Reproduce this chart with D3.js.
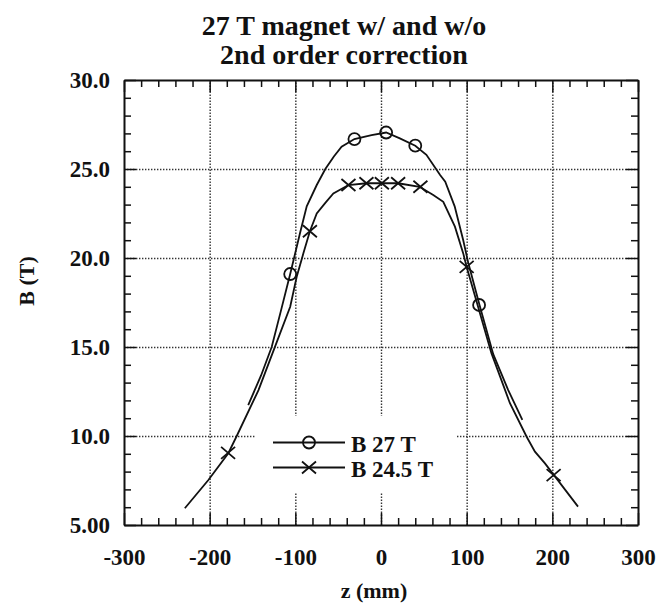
<!DOCTYPE html>
<html>
<head>
<meta charset="utf-8">
<script src="https://cdn.jsdelivr.net/npm/d3@7"></script>
<style>
  body { margin: 0; background: #fff; }
  text { font-family: "Liberation Serif", "Times New Roman", serif; font-weight: bold; fill: #111; }
</style>
</head>
<body>
<div class="canvas"></div>
<script>
// data
const zTicks = [-300, -200, -100, 0, 100, 200, 300];
const zTickLabels = ["-300", "-200", "-100", "0", "100", "200", "300"];
const bTicks = [5, 10, 15, 20, 25, 30];
const bTickLabels = ["5.00", "10.0", "15.0", "20.0", "25.0", "30.0"];

// B 27 T curve
const z27 = [-155, -140, -127.6, -117, -106, -94.5, -86.7, -75, -65, -55, -46, -31, -11, 6, 22, 40, 53, 69, 75, 86, 96, 102, 115, 131, 148.5, 165];
const b27 = [11.74, 13.4, 15.0, 17.0, 19.1, 21.4, 22.9, 24.1, 25.0, 25.7, 26.25, 26.68, 26.9, 27.05, 26.72, 26.31, 25.8, 24.66, 24.29, 22.9, 21.0, 19.7, 17.36, 14.6, 12.58, 10.9];
const z27Marks = [-106, -31, 6, 40, 114.5];
const b27Marks = [19.1, 26.68, 27.05, 26.31, 17.36];

// B 24.5 T curve
const z245 = [-229, -201.5, -178.2, -168.4, -143, -123.7, -106, -98.4, -90.6, -83, -75, -65, -55.6, -38, -17, 1, 20, 45, 61, 72.7, 86.3, 96, 100, 115.5, 129, 150.5, 170, 179.7, 191.4, 201.9, 230];
const b245 = [5.94, 7.53, 9.03, 10.0, 12.58, 15.02, 17.26, 18.95, 20.26, 21.5, 22.5, 23.1, 23.63, 24.1, 24.2, 24.2, 24.2, 24.0, 23.54, 23.16, 21.76, 20.26, 19.5, 16.9, 14.64, 11.84, 9.96, 9.12, 8.46, 7.8, 6.03];
const z245Marks = [-178.5, -83, -38, -17, 1, 20, 46, 100, 201.5];
const b245Marks = [9.05, 21.5, 24.1, 24.2, 24.2, 24.2, 24.0, 19.5, 7.8];

const seriesNames = ["B 27 T", "B 24.5 T"];

const svg = d3.select('.canvas').append('svg')
    .attr('width', 661)
    .attr('height', 606)

const margin = { top: 80, right: 23, bottom: 81, left: 124 }
const width = 661 - margin.left - margin.right
const height = 606 - margin.top - margin.bottom

const x = d3.scaleLinear().domain([-300, 300]).range([0, width])
const y = d3.scaleLinear().domain([5, 30]).range([height, 0])

const graph = svg.append('g')
    .attr('transform', `translate(${margin.left}, ${margin.top})`)

// dotted grid
const grid = graph.append('g')
grid.append('g')
    .attr('transform', `translate(0, ${height})`)
    .call(d3.axisBottom(x).tickValues(zTicks.slice(1, -1)).tickSize(-height).tickFormat(''))
grid.append('g')
    .call(d3.axisLeft(y).tickValues(bTicks.slice(1, -1)).tickSize(-width).tickFormat(''))
grid.selectAll('.domain').remove()
grid.selectAll('line')
    .attr('stroke', '#333')
    .attr('stroke-width', 1.4)
    .attr('stroke-dasharray', '1.4,1.6')

// legend box hides the grid
graph.append('rect')
    .attr('x', 256 - margin.left).attr('y', 416 - margin.top)
    .attr('width', 201).attr('height', 76)
    .attr('fill', '#fff')

// axes with inward ticks, all four sides
const minorZ = d3.range(-300, 301, 20).filter(v => v % 100 !== 0)
const minorB = d3.range(5, 30.01, 1).filter(v => v % 5 !== 0)

function frame(g) {
    g.selectAll('.domain').attr('stroke', '#111').attr('stroke-width', 2)
    g.selectAll('.tick line').attr('stroke', '#111').attr('stroke-width', 1.5)
}

const xBottom = graph.append('g').attr('transform', `translate(0, ${height})`)
xBottom.call(d3.axisBottom(x).tickValues(zTicks).tickSize(-12).tickSizeOuter(0).tickPadding(24)
    .tickFormat((d, i) => zTickLabels[i]))
xBottom.append('g').call(d3.axisBottom(x).tickValues(minorZ).tickSize(-7).tickFormat(''))
    .select('.domain').remove()
xBottom.call(frame)
xBottom.selectAll('.tick text').style('font-size', '23px')

const xTop = graph.append('g')
xTop.call(d3.axisTop(x).tickValues(zTicks).tickSize(-12).tickSizeOuter(0).tickFormat(''))
xTop.append('g').call(d3.axisTop(x).tickValues(minorZ).tickSize(-7).tickFormat(''))
    .select('.domain').remove()
xTop.call(frame)

const yLeft = graph.append('g')
yLeft.call(d3.axisLeft(y).tickValues(bTicks).tickSize(-12).tickSizeOuter(0)
    .tickPadding(14).tickFormat((d, i) => bTickLabels[i]))
yLeft.append('g').call(d3.axisLeft(y).tickValues(minorB).tickSize(-7).tickFormat(''))
    .select('.domain').remove()
yLeft.call(frame)
yLeft.selectAll('.tick text').style('font-size', '23px')

const yRight = graph.append('g').attr('transform', `translate(${width}, 0)`)
yRight.call(d3.axisRight(y).tickValues(bTicks).tickSize(-12).tickSizeOuter(0).tickFormat(''))
yRight.append('g').call(d3.axisRight(y).tickValues(minorB).tickSize(-7).tickFormat(''))
    .select('.domain').remove()
yRight.call(frame)

// curves
const line = d3.line().x(d => x(d[0])).y(d => y(d[1]))
const pts27 = d3.zip(z27, b27)
const pts245 = d3.zip(z245, b245)

graph.append('path').datum(pts27)
    .attr('d', line).attr('fill', 'none')
    .attr('stroke', '#111').attr('stroke-width', 1.8)
graph.append('path').datum(pts245)
    .attr('d', line).attr('fill', 'none')
    .attr('stroke', '#111').attr('stroke-width', 1.8)

function circleMark(sel) {
    sel.append('circle').attr('r', 6)
        .attr('fill', 'none').attr('stroke', '#111').attr('stroke-width', 1.8)
}
function crossMark(sel) {
    sel.append('path').attr('d', 'M-7,-6L7,6M-7,6L7,-6')
        .attr('fill', 'none').attr('stroke', '#111').attr('stroke-width', 1.8)
}

graph.selectAll('.m27').data(d3.zip(z27Marks, b27Marks)).enter()
    .append('g').attr('class', 'm27')
    .attr('transform', d => `translate(${x(d[0])}, ${y(d[1])})`)
    .call(circleMark)
graph.selectAll('.m245').data(d3.zip(z245Marks, b245Marks)).enter()
    .append('g').attr('class', 'm245')
    .attr('transform', d => `translate(${x(d[0])}, ${y(d[1])})`)
    .call(crossMark)

// legend
const legend = svg.append('g')
seriesNames.forEach((name, i) => {
    const ly = 442.5 + i * 25
    const row = legend.append('g')
    row.append('line')
        .attr('x1', 273).attr('x2', 345).attr('y1', ly).attr('y2', ly)
        .attr('stroke', '#111').attr('stroke-width', 1.8)
    row.append('g').attr('transform', `translate(309, ${ly})`)
        .call(i === 0 ? circleMark : crossMark)
    row.append('text')
        .attr('x', 351).attr('y', ly + 9)
        .style('font-size', '23px')
        .text(name)
})

// titles
svg.append('text')
    .attr('x', 344).attr('y', 35)
    .attr('text-anchor', 'middle')
    .style('font-size', '28px')
    .text('27 T magnet w/ and w/o')
svg.append('text')
    .attr('x', 344).attr('y', 64)
    .attr('text-anchor', 'middle')
    .style('font-size', '28px')
    .text('2nd order correction')

svg.append('text')
    .attr('x', 374).attr('y', 598)
    .attr('text-anchor', 'middle')
    .style('font-size', '22px')
    .text('z (mm)')

svg.append('text')
    .attr('transform', 'translate(34, 281) rotate(-90)')
    .attr('text-anchor', 'middle')
    .style('font-size', '22px')
    .text('B (T)')
</script>
</body>
</html>
